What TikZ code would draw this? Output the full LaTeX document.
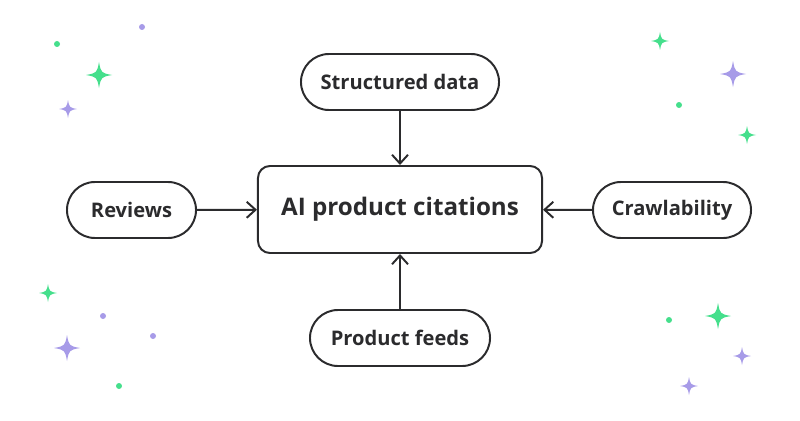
\documentclass[tikz,border=0pt]{standalone}
\usepackage{fontspec}
\setmainfont{Open Sans}
\usepackage{tikz}
\usetikzlibrary{arrows.meta,positioning}
\definecolor{ink}{HTML}{2B2B2D}
\definecolor{mint}{HTML}{45DF8C}
\definecolor{lilac}{HTML}{A79BE8}
\tikzset{pill/.style={shape=rectangle, draw=ink, line width=1.4pt, fill=white,
    rounded corners=0.7cm, minimum height=1.4cm, inner sep=0pt,
    font=\fontsize{14.3}{17}\selectfont\bfseries, text=ink}}
\tikzset{hub/.style={shape=rectangle, draw=ink, line width=1.4pt, fill=white,
    rounded corners=0.3cm, minimum width=7.1cm, minimum height=2.175cm,
    font=\fontsize{17.2}{20}\selectfont\bfseries, text=ink}}
\tikzset{feed/.style={-{Straight Barb[length=2.2mm,width=4mm]}, draw=ink, line width=1.4pt}}
\newcommand{\sparkle}[4]{%
  \fill[#1] (#2,#3-#4) .. controls ({#2+0.16*#4},{#3-0.16*#4}) .. (#2+#4,#3)
    .. controls ({#2+0.16*#4},{#3+0.16*#4}) .. (#2,#3+#4)
    .. controls ({#2-0.16*#4},{#3+0.16*#4}) .. (#2-#4,#3)
    .. controls ({#2-0.16*#4},{#3-0.16*#4}) .. (#2,#3-#4) -- cycle;}

\begin{document}
\begin{tikzpicture}[x=0.025cm, y=-0.025cm]
    \useasboundingbox (0,0) rectangle (800,420);
%    \draw[help lines] (0,0) grid[step=50] (800,420);
    \node[hub] (ai) at (400,209.5) {AI product citations};
    \node[pill, minimum width=4.95cm] (sd) at (400,82) {Structured data};
    \node[pill, minimum width=3.225cm] (rev) at (131.5,210) {Reviews};
    \node[pill, minimum width=3.95cm] (crawl) at (672,210) {Crawlability};
    \node[pill, minimum width=4.5cm] (pf) at (400,338) {Product feeds};
    \path (sd) edge[feed] (ai);
    \path (rev) edge[feed] (ai);
    \path (crawl) edge[feed] (ai);
    \path (pf) edge[feed] (ai);
    % sparkles
    \foreach \c/\x/\y/\r in {mint/99/75/13, lilac/68/109/9, mint/660/41/9,
        lilac/733/74/13, mint/747/135/9, mint/48/293/9, lilac/67/348/13,
        mint/718/316/13, lilac/742/356/9, lilac/689/386/9}
      {\sparkle{\c}{\x}{\y}{\r}}
    \foreach \c/\x/\y in {mint/57/44, lilac/142/27, mint/679/105, lilac/103/316,
        lilac/153/336, mint/119/386, mint/669/320}
      {\fill[\c] (\x,\y) circle (3);}
\end{tikzpicture}
\end{document}
